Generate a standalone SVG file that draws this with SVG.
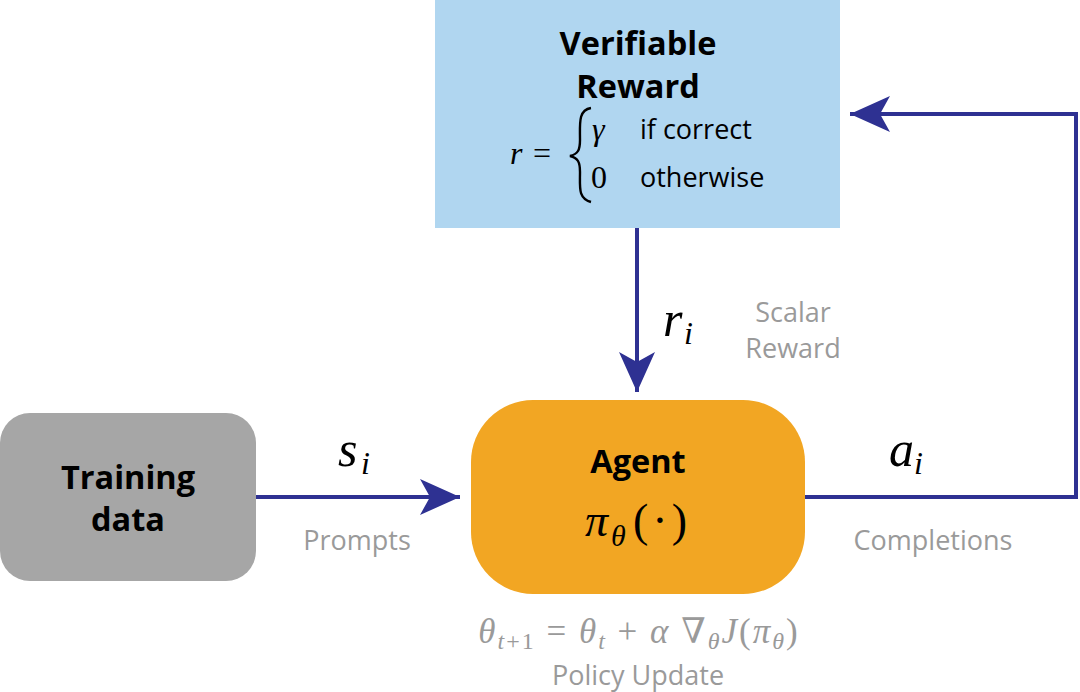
<svg xmlns="http://www.w3.org/2000/svg" width="1080" height="692" viewBox="0 0 1080 692">
<style>
.title{font-family:"Open Sans","DejaVu Sans",sans-serif;font-weight:bold;font-size:32.5px;fill:#000;text-anchor:middle}
.lbl{font-family:"Open Sans","DejaVu Sans",sans-serif;font-size:27px;fill:#9a9a9a;text-anchor:middle}
.txt{font-family:"Open Sans","DejaVu Sans",sans-serif;font-size:27px;fill:#000}
.math{font-family:"Liberation Serif","DejaVu Serif",serif;font-style:italic;fill:#000}
.rm{font-family:"Liberation Serif","DejaVu Serif",serif;fill:#000}
.conn{fill:none;stroke:#2E3192;stroke-width:4}
</style>
<defs>
<marker id="ah" viewBox="0 0 40 36" refX="40" refY="18" markerWidth="40" markerHeight="36" markerUnits="userSpaceOnUse" orient="auto">
<path d="M0,0 L40,18 L0,36 L10,18 Z" fill="#2E3192"/>
</marker>
</defs>
<rect width="1080" height="692" fill="#fff"/>
<g id="connectors">
<path class="conn" d="M256,497 H460" marker-end="url(#ah)"/>
<path class="conn" d="M637,228 V392" marker-end="url(#ah)"/>
<path class="conn" d="M805,497 H1076 V114 H850" marker-end="url(#ah)"/>
</g>
<g id="reward">
<rect x="435" y="0" width="405" height="228" fill="#B0D6F0"/>
<text class="title" x="638" y="55">Verifiable</text>
<text class="title" x="638" y="98">Reward</text>
<text class="math" x="510" y="164" font-size="32">r</text>
<text class="rm" x="533" y="164" font-size="32">=</text>
<path d="M591,108 C578,110 580,124 580,140 C580,150 578,154 570,156 C578,158 580,162 580,172 C580,188 578,198 591,202" fill="none" stroke="#000" stroke-width="2.4"/>
<text class="math" x="592" y="140" font-size="32">γ</text>
<text class="txt" x="640" y="139">if correct</text>
<text class="rm" x="591" y="188" font-size="32">0</text>
<text class="txt" x="640" y="187">otherwise</text>
</g>
<g id="training">
<rect x="0" y="413" width="256" height="168" rx="30" fill="#A6A6A6"/>
<text class="title" x="128" y="489">Training</text>
<text class="title" x="128" y="531">data</text>
</g>
<g id="agent">
<rect x="471" y="400" width="334" height="194" rx="62" fill="#F2A623"/>
<text class="title" x="638" y="473">Agent</text>
<text class="math" x="585" y="536" font-size="46">π</text>
<text class="math" x="611" y="546" font-size="30">θ</text>
<text class="rm" x="633" y="536" font-size="46" letter-spacing="4">(·)</text>
</g>
<g id="labels">
<text class="math" x="338" y="466" font-size="50">s</text>
<text class="math" x="361" y="474" font-size="32">i</text>
<text class="lbl" x="357" y="550">Prompts</text>
<text class="math" x="663" y="336" font-size="50">r</text>
<text class="math" x="684" y="344" font-size="32">i</text>
<text class="lbl" x="793" y="322">Scalar</text>
<text class="lbl" x="793" y="358">Reward</text>
<text class="math" x="889" y="466" font-size="50">a</text>
<text class="math" x="914" y="474" font-size="32">i</text>
<text class="lbl" x="933" y="550">Completions</text>
<text x="639" y="643" text-anchor="middle" font-family="Liberation Serif, DejaVu Serif, serif" font-size="35" fill="#9a9a9a" letter-spacing="2" xml:space="preserve"><tspan font-style="italic">θ</tspan><tspan font-style="italic" font-size="24" dy="6">t</tspan><tspan font-size="24">+1</tspan><tspan dy="-6"> = </tspan><tspan font-style="italic">θ</tspan><tspan font-style="italic" font-size="24" dy="6">t</tspan><tspan dy="-6"> + </tspan><tspan font-style="italic">α</tspan><tspan> ∇</tspan><tspan font-style="italic" font-size="24" dy="6">θ</tspan><tspan font-style="italic" dy="-6">J</tspan><tspan>(</tspan><tspan font-style="italic">π</tspan><tspan font-style="italic" font-size="24" dy="6">θ</tspan><tspan dy="-6">)</tspan></text>
<text class="lbl" x="638" y="685">Policy Update</text>
</g>
</svg>
